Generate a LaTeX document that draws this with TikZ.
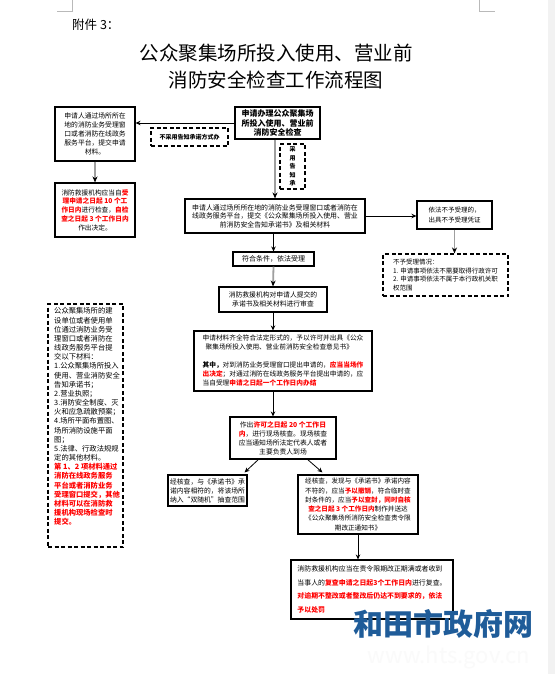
\documentclass[tikz,border=0pt]{standalone}
\usepackage{fontspec}
\setmainfont{Noto Sans CJK SC}
\usetikzlibrary{arrows.meta,calc}
\definecolor{logoblue}{HTML}{1F5C99}
\newcommand\rtx[1]{\textcolor{red}{\bfseries #1}}
\begin{document}
\begin{tikzpicture}[x=1pt,y=-1pt,
  box/.style={draw=black,line width=1.1pt,inner sep=0pt,align=center},
  dbox/.style={draw=black,line width=1.1pt,dash pattern=on 4pt off 2.5pt,inner sep=0pt,align=center},
  arr/.style={line width=0.8pt,-{Stealth[length=5pt,width=4.5pt]}},
  garr/.style={line width=1.8pt,draw=gray!75,-{Stealth[length=6pt,width=5pt,black]}},
  fs/.style={font=\fontsize{6.8}{9}\selectfont},
  plain/.style={inner sep=0pt}
]
\fill[white] (0,0) rectangle (555,674);
\useasboundingbox (0,0) rectangle (555,674);
\fill[gray!10] (548,0) rectangle (555,674);
\draw[gray!55,line width=0.6pt] (57,11) -- (72,11) -- (72,0);
\draw[gray!55,line width=0.6pt] (479,0) -- (479,11) -- (495,11);

% title
\node[plain,anchor=west,font=\fontsize{12.5}{14}\selectfont] (fj) at (72,25) {附件 3：};
\node[plain,font=\fontsize{19.5}{27}\selectfont,align=center] (title) at (276,66.5) {公众聚集场所投入使用、营业前\\消防安全检查工作流程图};

% top row
\node[box,minimum width=85,minimum height=32,font=\fontsize{8}{9.5}\selectfont\bfseries] (tc) at (277.5,123) {申请办理公众聚集场\\所投入使用、营业前\\消防安全检查};
\node[box,fs,minimum width=80,minimum height=54] (tl) at (95,134) {申请人通过场所所在\\地的消防业务受理窗\\口或者消防在线政务\\服务平台，提交申请\\材料。};
\node[dbox,minimum width=77,minimum height=18,font=\fontsize{6}{7}\selectfont\bfseries] (lbl) at (189.5,137) {不采用告知承诺方式办};
\node[dbox,minimum width=25,minimum height=45,font=\fontsize{6}{8.5}\selectfont\bfseries] (vlbl) at (292.5,166.5) {采\\用\\告\\知\\承};
\node[box,minimum width=80,minimum height=54,font=\fontsize{6.7}{8.75}\selectfont] (red) at (95,210) {消防救援机构应当自\rtx{受}\\\rtx{理申请之日起 10 个工}\\\rtx{作日内}进行检查，\rtx{自检}\\\rtx{查之日起 3 个工作日内}\\作出决定。};

% main column
\node[box,minimum width=180,minimum height=34,font=\fontsize{6.9}{8.5}\selectfont] (b3) at (275,216) {申请人通过场所所在地的消防业务受理窗口或者消防在\\线政务服务平台，提交《公众聚集场所投入使用、营业\\前消防安全告知承诺书》及相关材料};
\node[box,minimum width=75,minimum height=28,font=\fontsize{6.5}{10}\selectfont] (rt) at (454.5,215) {依法不予受理的，\\出具不予受理凭证};
\node[dbox,minimum width=125,minimum height=42,align=left,font=\fontsize{6.5}{8.7}\selectfont] (rd) at (445.5,275) {不予受理情况：\\1. 申请事项依法不需要取得行政许可\\2. 申请事项依法不属于本行政机关职\\权范围};
\node[box,minimum width=81,minimum height=14,font=\fontsize{7}{8}\selectfont] (b4) at (273.5,259) {符合条件，依法受理};
\node[box,minimum width=108,minimum height=25,font=\fontsize{6.8}{9}\selectfont] (b5) at (273,299.5) {消防救援机构对申请人提交的\\承诺书及相关材料进行审查};
\node[box,minimum width=178,minimum height=60,align=left,font=\fontsize{6.7}{9}\selectfont] (b6) at (283,361) {申请材料齐全符合法定形式的，予以许可并出具《公众\\\ \ 聚集场所投入使用、营业前消防安全检查意见书》\\~\\{\bfseries 其中，}对到消防业务受理窗口提出申请的，\rtx{应当当场作}\\\rtx{出决定}；对通过消防在线政务服务平台提出申请的，应\\当自受理\rtx{申请之日起一个工作日内办结}};
\node[box,minimum width=106,minimum height=42,font=\fontsize{6.8}{9}\selectfont] (b7) at (283,438) {作出\rtx{许可之日起 20 个工作日}\\\rtx{内}，进行现场核查。现场核查\\应当通知场所法定代表人或者\\主要负责人到场};
\node[box,minimum width=79,minimum height=31,font=\fontsize{6.8}{9}\selectfont] (b8) at (207.5,490.5) {经核查，与《承诺书》承\\诺内容相符的，将该场所\\纳入“双随机”抽查范围};
\node[box,minimum width=120,minimum height=59,font=\fontsize{6.6}{9.3}\selectfont] (b9) at (358,504.5) {经核查，发现与《承诺书》承诺内容\\不符的，应当\rtx{予以撤销}，符合临时查\\封条件的，应当\rtx{予以查封，同时自核}\\\rtx{查之日起 3 个工作日内}制作并送达\\《公众聚集场所消防安全检查责令限\\期改正通知书》};
\node[box,minimum width=162,minimum height=59,align=left,font=\fontsize{6.9}{13.7}\selectfont] (b10) at (372,589.5) {消防救援机构应当在责令限期改正期满或者收到\\当事人的\rtx{复查申请之日起3个工作日内}进行复查。\\\rtx{对逾期不整改或者整改后仍达不到要求的，依法}\\\rtx{予以处罚}};

% left dashed box
\node[dbox,minimum width=75,minimum height=243] (ld) at (85.5,425.5) {};
\node[plain,anchor=north west,align=left,font=\fontsize{7.3}{9.17}\selectfont] (ldt) at (54,307.5) {公众聚集场所的建\\设单位或者使用单\\位通过消防业务受\\理窗口或者消防在\\线政务服务平台提\\交以下材料：\\1.公众聚集场所投入\\使用、营业消防安全\\告知承诺书；\\2.营业执照；\\3.消防安全制度、灭\\火和应急疏散预案；\\4.场所平面布置图、\\场所消防设施平面\\图；\\5.法律、行政法规规\\定的其他材料。\\\rtx{第 1、2 项材料通过}\\\rtx{消防在线政务服务}\\\rtx{平台或者消防业务}\\\rtx{受理窗口提交，其他}\\\rtx{材料可以在消防救}\\\rtx{援机构现场检查时}\\\rtx{提交。}};

% connectors
\draw[arr] (tc.west) -- (tc.west -| tl.east);
\draw[garr] (tc.south -| b3.north) -- (b3.north);
\draw[garr] (tl.south) -- (red.north);
\draw[arr] (b3.east) -- (b3.east -| rt.west);
\draw[garr] (rt.south) -- (rt.south |- rd.north);
\draw[arr] (b3.south -| b4.north) -- (b4.north);
\draw[garr] (b4.south) -- (b5.north);
\draw[arr] (b5.south) -- (b5.south |- b6.north);
\draw[arr] (b6.south -| b5.south) -- (b5.south |- b7.north);
\coordinate (b7l) at ($(b7.south west)!0.27!(b7.south east)$);
\coordinate (b7r) at ($(b7.south west)!0.73!(b7.south east)$);
\draw[arr] (b7l) -- ($(b8.north east)+(-3,-2)$);
\draw[arr] (b7r) -- ($(b9.north west)+(25,-2)$);
\draw[arr] (b9.south) -- (b9.south |- b10.north);

% logo
\node[plain,font=\fontsize{30}{32}\selectfont\bfseries,text=logoblue] (logo) at (443,624) {和田市政府网};
\node[plain,font=\fontsize{22}{24}\selectfont,text=gray!4] (url) at (449,657) {www.hts.gov.cn};
\end{tikzpicture}
\end{document}
